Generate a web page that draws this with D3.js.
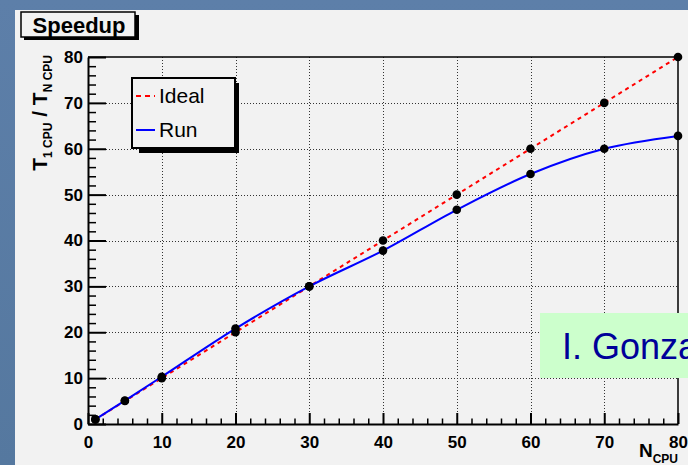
<!DOCTYPE html>
<html><head><meta charset="utf-8">
<script src="https://cdn.jsdelivr.net/npm/d3@7"></script>
<style>html,body{margin:0;padding:0;background:#587ba5;}svg{display:block;}</style>
</head><body>
<svg id="c" width="688" height="465"></svg>
<script>
const nCpu = [1, 5, 10, 20, 30, 40, 50, 60, 70, 80];
const ideal = [1, 5, 10, 20, 30, 40, 50, 60, 70, 80];
const run = [1, 5.1, 10.3, 20.8, 30, 37.8, 46.7, 54.5, 60, 62.8];
const majorTicks = [0, 10, 20, 30, 40, 50, 60, 70, 80];
const seriesNames = ["Ideal", "Run"];
const titleText = "Speedup";
const noteText = "I. Gonzalez";

const FONT = "'Liberation Sans', Arial, Helvetica, sans-serif";
const svg = d3.select("#c");

// background
const defs = svg.append("defs");
const grad = defs.append("linearGradient").attr("id", "bg").attr("x1", 0).attr("y1", 0).attr("x2", 0).attr("y2", 1);
grad.append("stop").attr("offset", 0).attr("stop-color", "#5d7fa9");
grad.append("stop").attr("offset", 1).attr("stop-color", "#55789f");
svg.append("rect").attr("width", 688).attr("height", 465).attr("fill", "url(#bg)");
svg.append("rect").attr("x", 15).attr("y", 10).attr("width", 673).attr("height", 455).attr("fill", "#f2f2f2");

const x = d3.scaleLinear().domain([0, 80]).range([88, 678]);
const y = d3.scaleLinear().domain([0, 80]).range([424, 57]);

const minor = d3.range(0, 81, 2).filter(v => v % 10 !== 0);
const gridVals = majorTicks.filter(v => v > 0 && v < 80);

// grid
const grid = svg.append("g").attr("stroke", "#333").attr("stroke-width", 1).attr("stroke-dasharray", "1,2");
grid.selectAll(".gx").data(gridVals).join("line")
  .attr("x1", d => Math.round(x(d)) + 0.5).attr("x2", d => Math.round(x(d)) + 0.5)
  .attr("y1", y(80)).attr("y2", y(0));
grid.selectAll(".gy").data(gridVals).join("line")
  .attr("y1", d => Math.round(y(d)) + 0.5).attr("y2", d => Math.round(y(d)) + 0.5)
  .attr("x1", x(0)).attr("x2", x(80));

// frame top/right
svg.append("path").attr("d", `M${x(0)},${y(80)}H${x(80)}V${y(0)}`).attr("fill", "none").attr("stroke", "#000").attr("stroke-width", 1.5);

// y axis
const yAxisG = svg.append("g").attr("transform", `translate(${x(0)},0)`);
yAxisG.call(d3.axisLeft(y).tickValues(majorTicks).tickSizeInner(-18).tickSizeOuter(0).tickPadding(5).tickFormat(d3.format("d")));
const yMin = svg.append("g").attr("transform", `translate(${x(0)},0)`);
yMin.call(d3.axisLeft(y).tickValues(minor).tickSizeInner(-8).tickSizeOuter(0).tickFormat(""));
yMin.select(".domain").remove();

// x axis
const xAxisG = svg.append("g").attr("transform", `translate(0,${y(0)})`);
xAxisG.call(d3.axisBottom(x).tickValues(majorTicks).tickSizeInner(-11).tickSizeOuter(0).tickPadding(14).tickFormat(d3.format("d")));
const xMin = svg.append("g").attr("transform", `translate(0,${y(0)})`);
xMin.call(d3.axisBottom(x).tickValues(minor).tickSizeInner(-5.5).tickSizeOuter(0).tickFormat(""));
xMin.select(".domain").remove();

[yAxisG, xAxisG].forEach(g => {
  g.select(".domain").attr("stroke", "#000").attr("stroke-width", 2);
  g.selectAll(".tick line").attr("stroke", "#000").attr("stroke-width", 2);
  g.selectAll(".tick text").attr("fill", "#000").attr("font-family", FONT).attr("font-weight", "bold").attr("font-size", 17);
});
[yMin, xMin].forEach(g => g.selectAll(".tick line").attr("stroke", "#000").attr("stroke-width", 1.5));
xAxisG.selectAll(".tick text").attr("dy", "0.71em").attr("y", 12);

// axis titles
const yt = svg.append("text").attr("transform", "translate(47,55) rotate(-90)")
  .attr("text-anchor", "end").attr("font-family", FONT).attr("font-weight", "bold").attr("fill", "#000");
yt.append("tspan").attr("font-size", 21).text("T");
yt.append("tspan").attr("font-size", 12).attr("dy", 5).text("1 CPU");
yt.append("tspan").attr("font-size", 21).attr("dy", -5).text(" / T");
yt.append("tspan").attr("font-size", 12).attr("dy", 5).text("N CPU");

const xt = svg.append("text").attr("x", 678).attr("y", 457).attr("text-anchor", "end")
  .attr("font-family", FONT).attr("font-weight", "bold").attr("fill", "#000");
xt.append("tspan").attr("font-size", 19).text("N");
xt.append("tspan").attr("font-size", 12).attr("dy", 6).text("CPU");

// series
const idealData = nCpu.map((n, i) => [n, ideal[i]]);
const runData = nCpu.map((n, i) => [n, run[i]]);
svg.append("path").datum(idealData)
  .attr("d", d3.line().x(d => x(d[0])).y(d => y(d[1])))
  .attr("fill", "none").attr("stroke", "#ff0000").attr("stroke-width", 2).attr("stroke-dasharray", "4,4");
svg.append("path").datum(runData)
  .attr("d", d3.line().curve(d3.curveCatmullRom.alpha(0.5)).x(d => x(d[0])).y(d => y(d[1])))
  .attr("fill", "none").attr("stroke", "#0000ff").attr("stroke-width", 2);

svg.append("g").selectAll("circle").data(idealData.concat(runData)).join("circle")
  .attr("cx", d => x(d[0])).attr("cy", d => y(d[1])).attr("r", 4.3).attr("fill", "#000");

// title box
svg.append("rect").attr("x", 24).attr("y", 15).attr("width", 115).attr("height", 25).attr("fill", "#000");
svg.append("rect").attr("x", 21).attr("y", 12).attr("width", 114).attr("height", 25).attr("fill", "#f2f2f2").attr("stroke", "#000").attr("stroke-width", 1.5);
svg.append("text").attr("x", 79).attr("y", 33).attr("text-anchor", "middle").attr("font-family", FONT)
  .attr("font-weight", "bold").attr("font-size", 22).attr("fill", "#000").text(titleText);

// legend
svg.append("rect").attr("x", 139).attr("y", 83).attr("width", 100).attr("height", 70).attr("fill", "#000");
svg.append("rect").attr("x", 132).attr("y", 78).attr("width", 103).attr("height", 70).attr("fill", "#f2f2f2").attr("stroke", "#000").attr("stroke-width", 2);
const legendRows = [
  {name: seriesNames[0], color: "#ff0000", dash: "5,4", y: 96},
  {name: seriesNames[1], color: "#0000ff", dash: null, y: 130}
];
legendRows.forEach(r => {
  svg.append("line").attr("x1", 136).attr("x2", 155).attr("y1", r.y).attr("y2", r.y)
    .attr("stroke", r.color).attr("stroke-width", 2).attr("stroke-dasharray", r.dash);
  svg.append("text").attr("x", 159).attr("y", r.y + 7).attr("font-family", FONT).attr("font-size", 21)
    .attr("fill", "#000").text(r.name);
});

// note box
svg.append("rect").attr("x", 540).attr("y", 313).attr("width", 148).attr("height", 65).attr("fill", "#ccffcc");
svg.append("text").attr("x", 562).attr("y", 359).attr("font-family", FONT).attr("font-size", 36)
  .attr("fill", "#000099").text(noteText);
</script>
</body></html>
